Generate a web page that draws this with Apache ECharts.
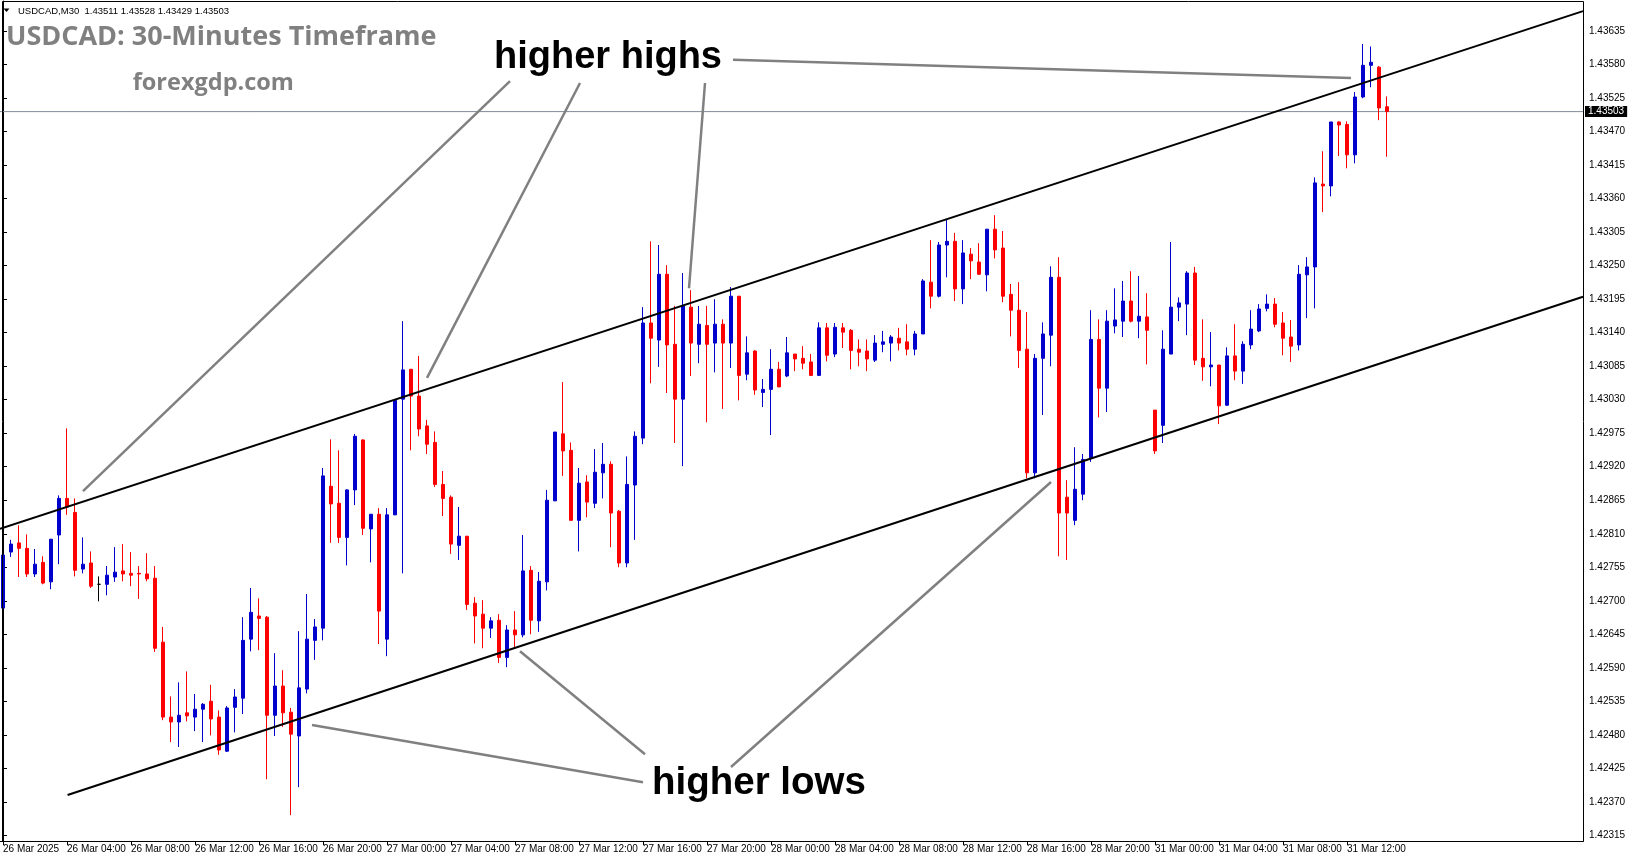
<!DOCTYPE html>
<html><head><meta charset="utf-8">
<script src="https://cdn.jsdelivr.net/npm/echarts@6/dist/echarts.min.js"></script>
<style>html,body{margin:0;padding:0;background:#fff;}#chart{width:1631px;height:861px;}</style>
</head><body><div id="chart"></div>
<script>
// ---- data ----
const timeLabels = ['26 Mar 2025','26 Mar 04:00','26 Mar 08:00','26 Mar 12:00','26 Mar 16:00','26 Mar 20:00',
  '27 Mar 00:00','27 Mar 04:00','27 Mar 08:00','27 Mar 12:00','27 Mar 16:00','27 Mar 20:00',
  '28 Mar 00:00','28 Mar 04:00','28 Mar 08:00','28 Mar 12:00','28 Mar 16:00','28 Mar 20:00',
  '31 Mar 00:00','31 Mar 04:00','31 Mar 08:00','31 Mar 12:00'];
const opens = [1.42688,1.42780,1.42795,1.42786,1.42744,1.42763,1.42731,1.42808,1.42868,1.42845,
1.42752,1.42762,1.42727,1.42727,1.42739,1.42749,1.42745,1.42745,1.42744,1.42737,
1.42632,1.42509,1.42501,1.42516,1.42509,1.42522,1.42535,1.42509,1.42453,1.42525,
1.42540,1.42637,1.42675,1.42673,1.42512,1.42560,1.42517,1.42478,1.42555,1.42635,
1.42655,1.42888,1.42860,1.42804,1.42882,1.42964,1.42818,1.42842,1.42637,1.42841,
1.43031,1.43080,1.43036,1.42987,1.42960,1.42891,1.42870,1.42791,1.42806,1.42696,
1.42678,1.42655,1.42668,1.42607,1.42652,1.42644,1.42750,1.42667,1.42731,1.42864,
1.42974,1.42947,1.42832,1.42895,1.42860,1.42910,1.42924,1.42847,1.42762,1.42890,
1.42967,1.43156,1.43128,1.43236,1.43121,1.43031,1.43182,1.43121,1.43152,1.43123,
1.43154,1.43123,1.43200,1.43072,1.43110,1.43042,1.43047,1.43080,1.43069,1.43105,
1.43098,1.43092,1.43070,1.43148,1.43105,1.43148,1.43144,1.43113,1.43110,1.43095,
1.43121,1.43123,1.43131,1.43125,1.43113,1.43138,1.43223,1.43200,1.43284,1.43290,
1.43212,1.43269,1.43256,1.43235,1.43310,1.43279,1.43203,1.43177,1.43113,1.42910,
1.43098,1.43136,1.43231,1.42870,1.42832,1.42875,1.42934,1.43129,1.43049,1.43151,
1.43159,1.43192,1.43159,1.43166,1.43013,1.42988,1.43105,1.43182,1.43187,1.43238,
1.43098,1.43084,1.43087,1.43021,1.43102,1.43077,1.43120,1.43143,1.43180,1.43187,
1.43156,1.43133,1.43120,1.43235,1.43248,1.43384,1.43381,1.43486,1.43482,1.43432,
1.43527,1.43579,1.43576,1.43511];
const highs = [1.42796,1.42800,1.42824,1.42809,1.42785,1.42773,1.42801,1.42873,1.42983,1.42868,
1.42804,1.42781,1.42740,1.42757,1.42788,1.42793,1.42780,1.42757,1.42778,1.42757,
1.42657,1.42543,1.42566,1.42584,1.42547,1.42532,1.42562,1.42520,1.42527,1.42555,
1.42673,1.42721,1.42704,1.42675,1.42614,1.42586,1.42524,1.42650,1.42711,1.42670,
1.42918,1.42965,1.42947,1.42883,1.42974,1.42965,1.42842,1.42852,1.42852,1.43029,
1.43159,1.43080,1.43102,1.42997,1.42978,1.42913,1.42873,1.42854,1.42806,1.42706,
1.42701,1.42673,1.42678,1.42660,1.42683,1.42808,1.42757,1.42747,1.42882,1.42977,
1.43059,1.42960,1.42918,1.42906,1.42949,1.42959,1.42929,1.42849,1.42937,1.42978,
1.43182,1.43290,1.43284,1.43251,1.43184,1.43238,1.43210,1.43184,1.43184,1.43195,
1.43162,1.43215,1.43200,1.43134,1.43111,1.43064,1.43113,1.43092,1.43133,1.43105,
1.43118,1.43105,1.43157,1.43156,1.43156,1.43156,1.43146,1.43129,1.43129,1.43136,
1.43143,1.43136,1.43148,1.43154,1.43143,1.43228,1.43292,1.43289,1.43325,1.43304,
1.43292,1.43279,1.43287,1.43310,1.43333,1.43307,1.43220,1.43223,1.43174,1.43105,
1.43157,1.43249,1.43264,1.42898,1.42952,1.42941,1.43177,1.43162,1.43177,1.43213,
1.43225,1.43241,1.43233,1.43205,1.43013,1.43144,1.43289,1.43198,1.43241,1.43248,
1.43162,1.43141,1.43087,1.43116,1.43154,1.43126,1.43177,1.43187,1.43203,1.43197,
1.43174,1.43161,1.43251,1.43264,1.43395,1.43438,1.43486,1.43487,1.43487,1.43535,
1.43614,1.43610,1.43578,1.43528];
const lows = [1.42688,1.42772,1.42739,1.42739,1.42739,1.42727,1.42719,1.42760,1.42841,1.42740,
1.42745,1.42721,1.42699,1.42709,1.42731,1.42732,1.42724,1.42703,1.42732,1.42616,
1.42504,1.42468,1.42460,1.42502,1.42486,1.42468,1.42479,1.42447,1.42452,1.42484,
1.42514,1.42617,1.42619,1.42407,1.42478,1.42493,1.42348,1.42394,1.42548,1.42603,
1.42635,1.42795,1.42795,1.42758,1.42857,1.42808,1.42763,1.42629,1.42609,1.42841,
1.42745,1.42947,1.42970,1.42941,1.42887,1.42839,1.42777,1.42767,1.42685,1.42630,
1.42622,1.42639,1.42598,1.42591,1.42624,1.42640,1.42645,1.42649,1.42717,1.42864,
1.42905,1.42832,1.42781,1.42837,1.42852,1.42868,1.42788,1.42755,1.42755,1.42800,
1.42957,1.43057,1.43084,1.43041,1.42959,1.42921,1.43069,1.43090,1.42993,1.43075,
1.43015,1.43082,1.43029,1.43062,1.43038,1.43018,1.42972,1.43051,1.43067,1.43077,
1.43080,1.43069,1.43069,1.43093,1.43100,1.43115,1.43080,1.43085,1.43077,1.43092,
1.43108,1.43093,1.43111,1.43103,1.43103,1.43138,1.43180,1.43198,1.43231,1.43192,
1.43187,1.43228,1.43235,1.43208,1.43262,1.43190,1.43134,1.43082,1.42901,1.42901,
1.43005,1.43085,1.42773,1.42767,1.42824,1.42865,1.42928,1.43001,1.43010,1.43139,
1.43133,1.43157,1.43131,1.43088,1.42941,1.42959,1.43105,1.43159,1.43136,1.43087,
1.43061,1.43052,1.42990,1.43020,1.43062,1.43056,1.43113,1.43141,1.43175,1.43149,
1.43103,1.43092,1.43111,1.43164,1.43180,1.43338,1.43364,1.43430,1.43410,1.43418,
1.43525,1.43543,1.43489,1.43429];
const closes = [1.42775,1.42793,1.42786,1.42744,1.42760,1.42729,1.42801,1.42868,1.42854,1.42750,
1.42760,1.42724,1.42727,1.42742,1.42747,1.42744,1.42742,1.42744,1.42736,1.42622,
1.42509,1.42501,1.42512,1.42511,1.42522,1.42530,1.42506,1.42455,1.42524,1.42542,
1.42635,1.42681,1.42671,1.42512,1.42560,1.42516,1.42481,1.42557,1.42637,1.42657,
1.42905,1.42859,1.42804,1.42882,1.42970,1.42819,1.42842,1.42683,1.42841,1.43029,
1.43079,1.43036,1.42982,1.42957,1.42891,1.42868,1.42793,1.42806,1.42694,1.42675,
1.42655,1.42667,1.42607,1.42652,1.42644,1.42749,1.42668,1.42732,1.42865,1.42977,
1.42946,1.42832,1.42893,1.42862,1.42911,1.42924,1.42844,1.42762,1.42891,1.42970,
1.43156,1.43131,1.43236,1.43120,1.43031,1.43184,1.43123,1.43154,1.43121,1.43154,
1.43123,1.43200,1.43070,1.43107,1.43046,1.43047,1.43080,1.43051,1.43107,1.43097,
1.43090,1.43070,1.43148,1.43103,1.43149,1.43141,1.43111,1.43108,1.43097,1.43123,
1.43125,1.43133,1.43123,1.43113,1.43138,1.43225,1.43200,1.43284,1.43290,1.43212,
1.43271,1.43258,1.43236,1.43310,1.43276,1.43200,1.43177,1.43111,1.42910,1.43098,
1.43138,1.43231,1.42844,1.42844,1.42883,1.42932,1.43129,1.43049,1.43159,1.43161,
1.43192,1.43159,1.43167,1.43144,1.42946,1.43113,1.43182,1.43189,1.43238,1.43095,
1.43084,1.43087,1.43020,1.43102,1.43077,1.43121,1.43146,1.43179,1.43187,1.43154,
1.43131,1.43118,1.43236,1.43248,1.43386,1.43381,1.43486,1.43481,1.43432,1.43527,
1.43579,1.43584,1.43509,1.43503];
const yTicks = [1.42315,1.42370,1.42425,1.42480,1.42535,1.42590,1.42645,1.42700,1.42755,1.42810,
1.42865,1.42920,1.42975,1.43030,1.43085,1.43140,1.43195,1.43250,1.43305,1.43360,
1.43415,1.43470,1.43525,1.43580,1.43635];
const lastPrice = 1.43503;
const headerText = 'USDCAD,M30  1.43511 1.43528 1.43429 1.43503';
// trend lines [barIndex, price]
const channelUpper = [[-0.375, 1.42818], [197.5, 1.43668]];
const channelLower = [[8.07, 1.42381], [197.5, 1.43199]];
const highPointers = [
  [[63.375, 1.43553], [10, 1.42880]],
  [[72.125, 1.43550], [53, 1.43066]],
  [[87.75, 1.43550], [85.75, 1.43213]],
  [[91.25, 1.43588], [168.5, 1.43558]]
];
const lowPointers = [
  [[38.625, 1.42496], [80, 1.42402]],
  [[64.625, 1.42617], [80.25, 1.42448]],
  [[131, 1.42895], [91, 1.42427]]
];

// ---- chart ----
const SLOTS = 198;
const categories = [];
for (let i = 0; i < SLOTS; i++) {
  categories.push(i % 8 === 0 && i / 8 < timeLabels.length ? timeLabels[i / 8] : '');
}
const candleData = opens.map((o, i) => [o, closes[i], lows[i], highs[i]]);
const FONT = '"Liberation Sans", Arial, sans-serif';
const Y_MIN = 1.423056, Y_MAX = 1.436846;

const overlaySeries = [{
  type: 'line', xAxisIndex: 1, data: [[-0.5, lastPrice], [197.5, lastPrice]], symbol: 'none', silent: true, z: 1,
  lineStyle: { color: '#7f8c99', width: 1 }
}];
[channelUpper, channelLower].forEach(d => overlaySeries.push({
  type: 'line', xAxisIndex: 1, data: d, symbol: 'none', silent: true, z: 3,
  lineStyle: { color: '#000', width: 2 }
}));
highPointers.concat(lowPointers).forEach(d => overlaySeries.push({
  type: 'line', xAxisIndex: 1, data: d, symbol: 'none', silent: true, z: 3,
  lineStyle: { color: '#808080', width: 2.5 }
}));

const chart = echarts.init(document.getElementById('chart'));
chart.setOption({
  animation: false,
  backgroundColor: '#fff',
  grid: { left: -1, top: 1, width: 1584, height: 840, containLabel: false, outerBoundsMode: 'none' },
  xAxis: [{
    type: 'category', data: categories, boundaryGap: true,
    axisLine: { show: true, lineStyle: { color: '#000', width: 1 } },
    axisTick: { show: true, alignWithLabel: true, length: 4, interval: (i, v) => v !== '', lineStyle: { color: '#000' } },
    axisLabel: { interval: (i, v) => v !== '', align: 'left', margin: 3, color: '#000', fontSize: 10, fontFamily: FONT },
    splitLine: { show: false }
  }, {
    type: 'value', min: -0.5, max: 197.5, show: false
  }],
  yAxis: [{
    type: 'value', position: 'right', min: Y_MIN, max: Y_MAX, scale: true,
    splitLine: { show: false },
    axisLine: { show: true, lineStyle: { color: '#000', width: 1 } },
    axisTick: { show: true, length: 4, customValues: yTicks, lineStyle: { color: '#000' } },
    axisLabel: { customValues: yTicks, formatter: v => v.toFixed(5), color: '#000', fontSize: 10, margin: 6, fontFamily: FONT }
  }, {
    type: 'value', position: 'right', min: Y_MIN, max: Y_MAX, scale: true, z: 20,
    splitLine: { show: false }, axisLine: { show: false }, axisTick: { show: false },
    axisLabel: { customValues: [lastPrice], formatter: v => v.toFixed(5), color: '#fff', backgroundColor: '#000',
      padding: [1, 3, 0, 3], fontSize: 10, margin: 2, fontFamily: FONT }
  }],
  series: [{
    type: 'candlestick', data: candleData, barWidth: 4, silent: true, z: 2,
    itemStyle: { color: '#0000CD', color0: '#FF0000', borderColor: '#0000CD', borderColor0: '#FF0000', borderColorDoji: '#000', borderWidth: 1 }
  }].concat(overlaySeries),
  graphic: [
    { type: 'rect', z: 50, silent: true, shape: { x: 2.5, y: 1.5, width: 1581, height: 840 }, style: { fill: null, stroke: '#000', lineWidth: 1 } },
    { type: 'polygon', z: 100, silent: true, shape: { points: [[3.5, 8.5], [9.5, 8.5], [6.5, 12]] }, style: { fill: '#000' } },
    { type: 'text', z: 100, silent: true, x: 18, y: 11, style: { text: headerText, font: '9.5px ' + FONT, fill: '#000', verticalAlign: 'middle' } },
    { type: 'text', z: 100, silent: true, x: 6, y: 37.5, style: { text: 'USDCAD: 30-Minutes Timeframe', font: 'bold 27px "Open Sans", sans-serif', fill: '#808080', verticalAlign: 'middle' } },
    { type: 'text', z: 100, silent: true, x: 132.7, y: 83.6, style: { text: 'forexgdp.com', font: 'bold 23.5px "Open Sans", sans-serif', fill: '#808080', verticalAlign: 'middle' } },
    { type: 'text', z: 100, silent: true, x: 494, y: 58, style: { text: 'higher highs', font: 'bold 38px ' + FONT, fill: '#000', verticalAlign: 'middle' } },
    { type: 'text', z: 100, silent: true, x: 652, y: 783, style: { text: 'higher lows', font: 'bold 38.5px ' + FONT, fill: '#000', verticalAlign: 'middle' } }
  ]
});
</script></body></html>
